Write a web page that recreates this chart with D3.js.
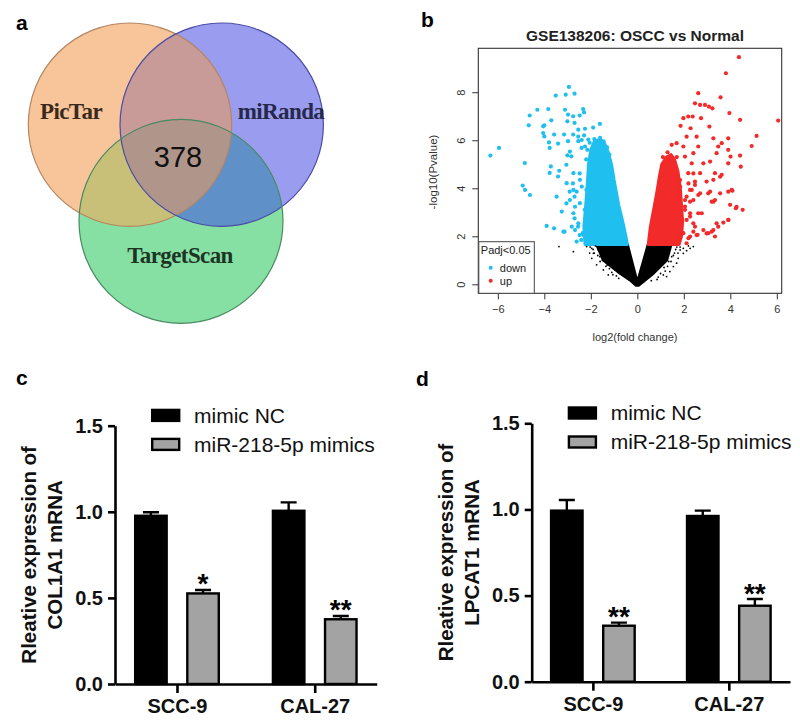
<!DOCTYPE html>
<html>
<head>
<meta charset="utf-8">
<script src="https://cdn.jsdelivr.net/npm/d3@7"></script>
<style>
body { margin: 0; background: #fff; }
</style>
</head>
<body>
<div id="chart"></div>
<script>
// ---- panel a: Venn
const vennSets = ["PicTar", "miRanda", "TargetScan"];
const vennCore = 378;

// ---- panel b: volcano (log2 fold change, -log10 p)
const volcanoXTicks = [-6, -4, -2, 0, 2, 4, 6];
const volcanoYTicks = [0, 2, 4, 6, 8];

// scattered "down" genes
const downPoints = [
    [-6.32, 5.36], [-5.95, 5.68], [-4.84, 5.05], [-4.93, 4.11], [-4.83, 3.93], [-4.62, 3.72],
    [-4.67, 6.62], [-4.63, 7.03], [-4.30, 7.27], [-3.83, 7.30], [-3.70, 6.83], [-3.51, 7.86],
    [-3.08, 7.90], [-2.94, 8.22], [-2.70, 7.94], [-3.11, 7.27], [-2.33, 7.30], [-2.29, 7.16],
    [-2.98, 7.07], [-2.76, 7.00], [-2.48, 7.03], [-3.01, 6.79], [-2.70, 6.72], [-4.05, 6.58],
    [-4.00, 6.62], [-4.05, 6.30], [-4.00, 6.16], [-3.80, 5.91], [-3.77, 5.68], [-3.58, 6.24],
    [-3.41, 5.86], [-3.15, 6.24], [-2.98, 5.96], [-2.76, 6.24], [-2.54, 6.44], [-2.25, 6.48],
    [-1.90, 6.53], [-1.61, 6.68], [-2.29, 6.20], [-2.11, 6.03], [-2.54, 5.96], [-2.40, 5.68],
    [-2.84, 5.33], [-3.01, 5.37], [-3.05, 4.98], [-3.72, 4.91], [-3.77, 4.64], [-3.36, 4.73],
    [-3.41, 4.49], [-3.90, 2.43], [-3.58, 2.33], [-3.18, 2.19], [-3.13, 2.19], [-3.25, 3.03],
    [-3.47, 3.65], [-2.90, 5.53], [-2.75, 4.63], [-3.04, 4.21], [-2.90, 3.51], [-2.75, 2.96],
    [-2.68, 2.26], [-2.35, 2.13], [-2.18, 2.68], [-2.47, 3.38], [-2.61, 3.86], [-2.47, 4.35],
    [-2.39, 6.01], [-2.25, 5.74], [-2.54, 6.15], [-3.05, 3.37], [-2.91, 3.86], [-2.70, 3.65],
    [-2.70, 2.75], [-2.48, 2.05], [-2.41, 1.85], [-2.55, 2.40], [-2.26, 3.10], [-2.77, 4.20],
    [-2.48, 4.62], [-2.12, 2.12], [-1.98, 2.54], [-2.19, 3.93], [-2.05, 5.90], [-1.85, 6.05],
    [-1.60, 6.10], [-1.45, 5.95], [-1.30, 5.70], [-1.20, 5.40], [-2.15, 5.60], [-2.20, 5.20],
    [-2.75, 3.93], [-2.68, 3.23], [-2.54, 2.54], [-2.82, 2.40], [-2.32, 2.05], [-2.61, 1.78],
    [-2.03, 1.85], [-2.18, 2.82], [-2.10, 3.51], [-2.39, 4.07]
];
// solid mass of "down" genes
const downCloud = [
    [-2.25, 1.66], [-2.30, 2.40], [-2.22, 3.30], [-2.15, 4.20], [-2.10, 5.00], [-2.00, 5.60],
    [-1.85, 5.95], [-1.60, 6.05], [-1.40, 5.85], [-1.25, 5.50], [-1.10, 4.95], [-1.00, 4.35],
    [-0.80, 3.30], [-0.60, 2.50], [-0.46, 1.85], [-0.43, 1.66]
];
// scattered "up" genes
const upPoints = [
    [4.37, 9.46], [3.81, 8.79], [6.06, 6.82], [5.13, 6.18], [4.92, 5.76], [2.62, 7.96],
    [3.58, 7.79], [2.48, 7.54], [2.70, 7.47], [2.91, 7.47], [3.23, 7.33], [3.08, 7.40],
    [3.96, 7.13], [4.42, 6.85], [1.98, 6.92], [2.19, 6.99], [2.38, 6.99], [2.74, 6.92],
    [1.86, 6.60], [2.29, 6.50], [3.10, 6.57], [2.12, 6.15], [2.55, 6.15], [3.27, 6.08],
    [3.63, 5.88], [3.91, 6.08], [3.91, 5.60], [3.48, 5.74], [4.42, 5.36], [4.45, 4.90],
    [4.01, 5.32], [3.91, 5.04], [3.41, 5.46], [3.13, 5.11], [3.34, 4.63], [3.63, 4.56],
    [3.27, 4.35], [2.84, 5.04], [2.70, 4.63], [2.98, 4.28], [3.05, 3.79], [3.20, 3.44],
    [3.34, 3.51], [3.56, 3.79], [3.91, 3.86], [4.09, 3.90], [3.99, 3.31], [4.24, 3.17],
    [4.53, 3.10], [3.91, 2.68], [3.70, 2.57], [3.48, 2.40], [3.27, 2.26], [3.34, 1.99],
    [3.05, 2.13], [2.84, 2.26], [2.59, 2.06], [2.41, 2.19], [2.27, 1.99], [2.41, 2.54],
    [2.62, 2.96], [2.27, 2.96], [2.41, 3.51], [2.62, 3.72], [2.27, 3.93], [2.48, 4.28],
    [2.19, 4.63], [2.34, 5.04], [2.05, 5.32], [2.41, 5.46], [2.62, 5.74], [1.98, 5.74],
    [1.69, 5.88], [1.48, 5.81], [2.12, 3.65], [2.05, 3.24], [2.12, 2.68], [1.98, 2.13],
    [1.76, 1.99], [3.56, 4.48], [4.06, 3.93], [4.27, 3.23], [3.13, 3.86], [3.27, 3.44],
    [2.70, 3.79], [2.77, 2.96], [3.41, 2.54], [3.92, 2.68], [3.20, 2.19], [2.98, 2.12],
    [2.55, 2.05], [2.20, 1.92], [1.84, 2.68], [2.05, 3.10], [2.27, 3.44], [2.48, 4.14],
    [2.20, 4.20], [1.84, 4.34], [2.41, 4.62], [1.10, 5.30], [1.30, 5.50], [1.70, 5.30],
    [1.84, 4.07], [2.05, 3.51], [2.27, 2.82], [2.48, 2.40], [1.84, 1.98], [2.12, 1.71],
    [1.69, 2.82], [2.34, 3.93]
];
// solid mass of "up" genes
const upCloud = [
    [0.47, 1.66], [0.56, 2.40], [0.70, 3.10], [0.85, 3.90], [0.95, 4.50], [1.05, 5.00],
    [1.25, 5.30], [1.45, 5.40], [1.60, 5.20], [1.75, 4.70], [1.85, 4.00], [1.90, 3.30],
    [1.95, 2.60], [1.90, 2.00], [1.80, 1.66]
];
// non-significant genes
const nsPoints = [
    [-3.37, 1.57], [-2.75, 1.36], [-2.18, 1.57], [-1.96, 1.50], [-1.96, 1.08], [-1.89, 1.29],
    [-1.75, 0.81], [-1.61, 1.15], [-1.68, 1.43], [-1.46, 0.60], [-1.25, 0.39], [-1.50, 1.00],
    [-1.80, 1.60], [-1.30, 0.80], [-1.10, 0.50], [-0.90, 0.35], [-1.40, 1.30], [-2.05, 1.30],
    [-2.03, 1.55], [-1.85, 1.30], [-1.70, 1.20], [-1.60, 0.95], [-1.55, 1.45], [-1.35, 0.75],
    [-1.20, 0.65], [-1.05, 0.40], [-0.95, 0.60], [-0.80, 0.25], [-1.90, 1.45], [-1.65, 1.55],
    [2.41, 1.57], [2.27, 1.50], [2.12, 1.40], [1.98, 1.29], [1.76, 1.08], [1.69, 0.88],
    [1.55, 0.74], [1.40, 0.53], [1.26, 0.32], [1.84, 1.43], [1.48, 1.15], [1.12, 0.39],
    [1.98, 1.50], [1.60, 1.30], [1.35, 0.95], [1.15, 0.70], [0.90, 0.30], [2.20, 1.60],
    [1.70, 1.55], [1.84, 1.55], [1.65, 1.45], [1.55, 1.20], [1.45, 0.95], [1.30, 0.75],
    [1.20, 0.55], [1.00, 0.45], [0.85, 0.20], [0.60, 0.15], [1.75, 1.30]
];
const nsCloud = [
    [-1.75, 1.66], [-0.43, 1.66], [0.00, 0.06], [0.47, 1.66], [1.45, 1.66], [1.26, 1.00],
    [0.69, 0.46], [0.33, 0.18], [0.05, -0.04], [-0.05, -0.04], [-0.31, 0.18], [-0.74, 0.46],
    [-1.46, 1.01]
];

// ---- panels c, d: qPCR bars
const cellLines = ["SCC-9", "CAL-27"];
const groups = ["mimic NC", "miR-218-5p mimics"];
const barTicks = [0, 0.5, 1.0, 1.5];

const col1a1NC = [0.977, 1.006];
const col1a1NCErr = [0.02, 0.049];
const col1a1Mimic = [0.526, 0.376];
const col1a1MimicErr = [0.02, 0.019];
const col1a1Stars = ["*", "**"];

const lpcat1NC = [0.993, 0.962];
const lpcat1NCErr = [0.062, 0.031];
const lpcat1Mimic = [0.325, 0.441];
const lpcat1MimicErr = [0.018, 0.039];
const lpcat1Stars = ["**", "**"];

const svg = d3.select("#chart").append("svg")
    .attr("width", 800)
    .attr("height", 723)
    .attr("viewBox", [0, 0, 800, 723])
    .style("font-family", "'Liberation Sans', Arial, sans-serif");

svg.append("rect").attr("width", 800).attr("height", 723).attr("fill", "#fff");

// panel letters
const letters = [["a", 16, 30], ["b", 421, 27], ["c", 16, 385], ["d", 416, 386]];
svg.append("g")
    .selectAll("text")
    .data(letters)
    .join("text")
    .attr("x", d => d[1])
    .attr("y", d => d[2])
    .attr("font-size", 21)
    .attr("font-weight", "bold")
    .text(d => d[0]);

// ================= Venn =================
function Venn(g) {
    const circles = [
        { cx: 130, cy: 124.7, r: 101.7, fill: "#f8c49a", stroke: "#b48662", ink: "#3b2a1c" },
        { cx: 221.7, cy: 124.7, r: 101.7, fill: "#9a9cf0", stroke: "#4a4ca6", ink: "#27284a" },
        { cx: 181, cy: 221.3, r: 102, fill: "#86e0a4", stroke: "#4a8a62", ink: "#1d3324" }
    ];
    const defs = g.append("defs");
    circles.forEach((c, i) => defs.append("clipPath").attr("id", "venn" + i)
        .append("circle").attr("cx", c.cx).attr("cy", c.cy).attr("r", c.r));

    const circ = (sel, c) => sel.append("circle").attr("cx", c.cx).attr("cy", c.cy).attr("r", c.r);

    circles.forEach(c => circ(g, c).attr("fill", c.fill));
    circ(g.append("g").attr("clip-path", "url(#venn0)"), circles[1]).attr("fill", "#c89a98");
    circ(g.append("g").attr("clip-path", "url(#venn0)"), circles[2]).attr("fill", "#c8bf78");
    circ(g.append("g").attr("clip-path", "url(#venn1)"), circles[2]).attr("fill", "#6090c8");
    circ(g.append("g").attr("clip-path", "url(#venn0)").append("g").attr("clip-path", "url(#venn1)"), circles[2])
        .attr("fill", "#b0958b");

    circles.forEach(c => circ(g, c).attr("fill", "none").attr("stroke", c.stroke).attr("stroke-width", 1.2));

    const labelPos = [[71, 119], [281, 119], [180, 263]];
    g.append("g")
        .selectAll("text")
        .data(vennSets)
        .join("text")
        .attr("x", (d, i) => labelPos[i][0])
        .attr("y", (d, i) => labelPos[i][1])
        .attr("text-anchor", "middle")
        .attr("font-family", "'Liberation Serif', 'Times New Roman', serif")
        .attr("font-weight", "bold")
        .attr("font-size", 23)
        .attr("letter-spacing", -0.6)
        .attr("fill", (d, i) => circles[i].ink)
        .text(d => d);

    g.append("text")
        .attr("x", 178)
        .attr("y", 166.5)
        .attr("text-anchor", "middle")
        .attr("font-size", 29)
        .attr("fill", "#111")
        .text(vennCore);
}
Venn(svg.append("g"));

// ================= Volcano =================
function Volcano(g) {
    const x = d3.scaleLinear([-6.84, 6.21], [478.3, 781.7]);
    const y = d3.scaleLinear([-0.375, 9.83], [293.3, 48.3]);
    const line = d3.line().x(d => x(d[0])).y(d => y(d[1])).curve(d3.curveLinearClosed);

    const clouds = [[nsCloud, "#000"], [downCloud, "#1fbff0"], [upCloud, "#f22a2a"]];
    g.append("g")
        .selectAll("path")
        .data(clouds)
        .join("path")
        .attr("d", d => line(d[0]))
        .attr("fill", d => d[1])
        .attr("stroke", d => d[1])
        .attr("stroke-width", 3)
        .attr("stroke-linejoin", "round");

    g.append("g").attr("fill", "#000")
        .selectAll("circle").data(nsPoints).join("circle")
        .attr("cx", d => x(d[0])).attr("cy", d => y(d[1])).attr("r", 0.9);
    g.append("g").attr("fill", "#1fbff0")
        .selectAll("circle").data(downPoints).join("circle")
        .attr("cx", d => x(d[0])).attr("cy", d => y(d[1])).attr("r", 2.1);
    g.append("g").attr("fill", "#f22a2a")
        .selectAll("circle").data(upPoints).join("circle")
        .attr("cx", d => x(d[0])).attr("cy", d => y(d[1])).attr("r", 2.1);

    g.append("rect")
        .attr("x", x.range()[0]).attr("y", y.range()[1])
        .attr("width", x.range()[1] - x.range()[0])
        .attr("height", y.range()[0] - y.range()[1])
        .attr("fill", "none").attr("stroke", "#333").attr("stroke-width", 1.1);

    g.append("g")
        .attr("transform", `translate(0,${y.range()[0]})`)
        .call(d3.axisBottom(x).tickValues(volcanoXTicks).tickSize(6).tickPadding(6).tickSizeOuter(0))
        .call(a => a.select(".domain").remove())
        .call(a => a.selectAll(".tick line").attr("stroke", "#333"))
        .call(a => a.selectAll(".tick text").attr("font-size", 11).attr("fill", "#333")
            .attr("font-family", "'Liberation Sans', Arial, sans-serif"));

    g.append("g")
        .attr("transform", `translate(${x.range()[0]},0)`)
        .call(d3.axisLeft(y).tickValues(volcanoYTicks).tickSize(6).tickSizeOuter(0))
        .call(a => a.select(".domain").remove())
        .call(a => a.selectAll(".tick line").attr("stroke", "#333"))
        .call(a => a.selectAll(".tick text")
            .attr("transform", "rotate(-90)")
            .attr("x", 0).attr("y", -13).attr("dy", 0)
            .attr("text-anchor", "middle")
            .attr("font-size", 11).attr("fill", "#333")
            .attr("font-family", "'Liberation Sans', Arial, sans-serif"));

    g.append("text")
        .attr("x", 635).attr("y", 40.7)
        .attr("text-anchor", "middle")
        .attr("font-size", 15.5).attr("font-weight", "bold").attr("fill", "#222")
        .text("GSE138206: OSCC vs Normal");

    g.append("text")
        .attr("x", 635).attr("y", 340.5)
        .attr("text-anchor", "middle")
        .attr("font-size", 11).attr("fill", "#333")
        .text("log2(fold change)");

    g.append("text")
        .attr("transform", `translate(437,172) rotate(-90)`)
        .attr("text-anchor", "middle")
        .attr("font-size", 11.5).attr("fill", "#333")
        .text("-log10(Pvalue)");

    // legend
    const lx = x.range()[0], lb = y.range()[0];
    const lg = g.append("g").attr("transform", `translate(${lx},${lb})`);
    lg.append("rect")
        .attr("x", 0.5).attr("y", -51.6).attr("width", 55.5).attr("height", 51.6)
        .attr("fill", "#fff").attr("stroke", "#444").attr("stroke-width", 1);
    lg.append("text").attr("x", 2.5).attr("y", -39.5).attr("font-size", 11).attr("fill", "#222").text("Padj<0.05");
    const items = [["down", "#1fbff0"], ["up", "#f22a2a"]];
    const li = lg.selectAll("g.item").data(items).join("g")
        .attr("class", "item")
        .attr("transform", (d, i) => `translate(0,${-25.6 + i * 13})`);
    li.append("circle").attr("cx", 12.4).attr("cy", 0).attr("r", 2).attr("fill", d => d[1]);
    li.append("text").attr("x", 21.5).attr("y", 4).attr("font-size", 11).attr("fill", "#222").text(d => d[0]);
}
Volcano(svg.append("g"));

// ================= qPCR bars =================
function BarPanel(g, {
    nc, ncErr, mimic, mimicErr, stars, gene,
    left, right, bottom, top
}) {
    const x = d3.scalePoint(cellLines, [left, right]).padding(0.45);
    const xg = d3.scaleBand(groups, [-43, 43]).paddingInner(0.35).paddingOuter(0);
    const y = d3.scaleLinear([0, 1.5], [bottom, top]);

    const rows = cellLines.flatMap((c, i) => [
        { cell: c, group: groups[0], v: nc[i], e: ncErr[i], star: "" },
        { cell: c, group: groups[1], v: mimic[i], e: mimicErr[i], star: stars[i] }
    ]);
    const fill = d3.scaleOrdinal(groups, ["#000", "#a3a3a3"]);

    const bar = g.append("g")
        .selectAll("g")
        .data(rows)
        .join("g")
        .attr("transform", d => `translate(${x(d.cell) + xg(d.group)},0)`);

    // error bars (upper only)
    bar.append("path")
        .attr("d", d => `M${xg.bandwidth() / 2},${y(d.v)}V${y(d.v + d.e)}M${xg.bandwidth() / 2 - 8},${y(d.v + d.e)}h16`)
        .attr("stroke", "#000").attr("stroke-width", 2.4).attr("fill", "none");

    bar.append("rect")
        .attr("x", 1.2)
        .attr("y", d => y(d.v))
        .attr("width", xg.bandwidth() - 2.4)
        .attr("height", d => y(0) - y(d.v))
        .attr("fill", d => fill(d.group))
        .attr("stroke", "#000").attr("stroke-width", 2.4);

    bar.append("text")
        .attr("x", xg.bandwidth() / 2)
        .attr("y", d => y(d.v + d.e) + 3.5)
        .attr("text-anchor", "middle")
        .attr("font-size", 28).attr("font-weight", "bold")
        .text(d => d.star);

    g.append("g")
        .attr("transform", `translate(${left},0)`)
        .call(d3.axisLeft(y).tickValues(barTicks).tickFormat(d3.format(".1f")).tickSize(7).tickPadding(5).tickSizeOuter(0))
        .call(a => a.select(".domain").attr("stroke-width", 2.6))
        .call(a => a.selectAll(".tick line").attr("stroke-width", 2.6))
        .call(a => a.selectAll(".tick text").attr("font-size", 20).attr("font-weight", "bold").attr("fill", "#111")
            .attr("font-family", "'Liberation Sans', Arial, sans-serif"));

    g.append("g")
        .attr("transform", `translate(0,${bottom})`)
        .call(d3.axisBottom(x).tickSize(9).tickPadding(6).tickSizeOuter(0))
        .call(a => a.select(".domain").attr("stroke-width", 2.6))
        .call(a => a.selectAll(".tick line").attr("stroke-width", 2.6))
        .call(a => a.selectAll(".tick text").attr("font-size", 20).attr("font-weight", "bold").attr("fill", "#111")
            .attr("font-family", "'Liberation Sans', Arial, sans-serif"));

    // y title, two lines
    const mid = (top + bottom) / 2;
    [["Rleative expression of", 79], [gene + " mRNA", 53]].forEach(([t, off]) =>
        g.append("text")
            .attr("transform", `translate(${left - off},${mid}) rotate(-90)`)
            .attr("text-anchor", "middle")
            .attr("font-size", 20.5).attr("font-weight", "bold").attr("fill", "#111")
            .text(t));

    // legend
    const leg = g.append("g")
        .attr("transform", `translate(${left + 36},${top - 17})`)
        .selectAll("g")
        .data(groups)
        .join("g")
        .attr("transform", (d, i) => `translate(0,${i * 29})`);
    leg.append("rect")
        .attr("x", 1.2).attr("y", 1.2).attr("width", 27).attr("height", 11)
        .attr("fill", d => fill(d)).attr("stroke", "#000").attr("stroke-width", 2.4);
    leg.append("text")
        .attr("x", 43).attr("y", 14)
        .attr("font-size", 21).attr("fill", "#111")
        .text(d => d);
}

BarPanel(svg.append("g"), {
    nc: col1a1NC, ncErr: col1a1NCErr, mimic: col1a1Mimic, mimicErr: col1a1MimicErr,
    stars: col1a1Stars, gene: "COL1A1",
    left: 115, right: 376.7, bottom: 684, top: 425.7
});

BarPanel(svg.append("g"), {
    nc: lpcat1NC, ncErr: lpcat1NCErr, mimic: lpcat1Mimic, mimicErr: lpcat1MimicErr,
    stars: lpcat1Stars, gene: "LPCAT1",
    left: 531.7, right: 790, bottom: 681.7, top: 423.3
});
</script>
</body>
</html>
